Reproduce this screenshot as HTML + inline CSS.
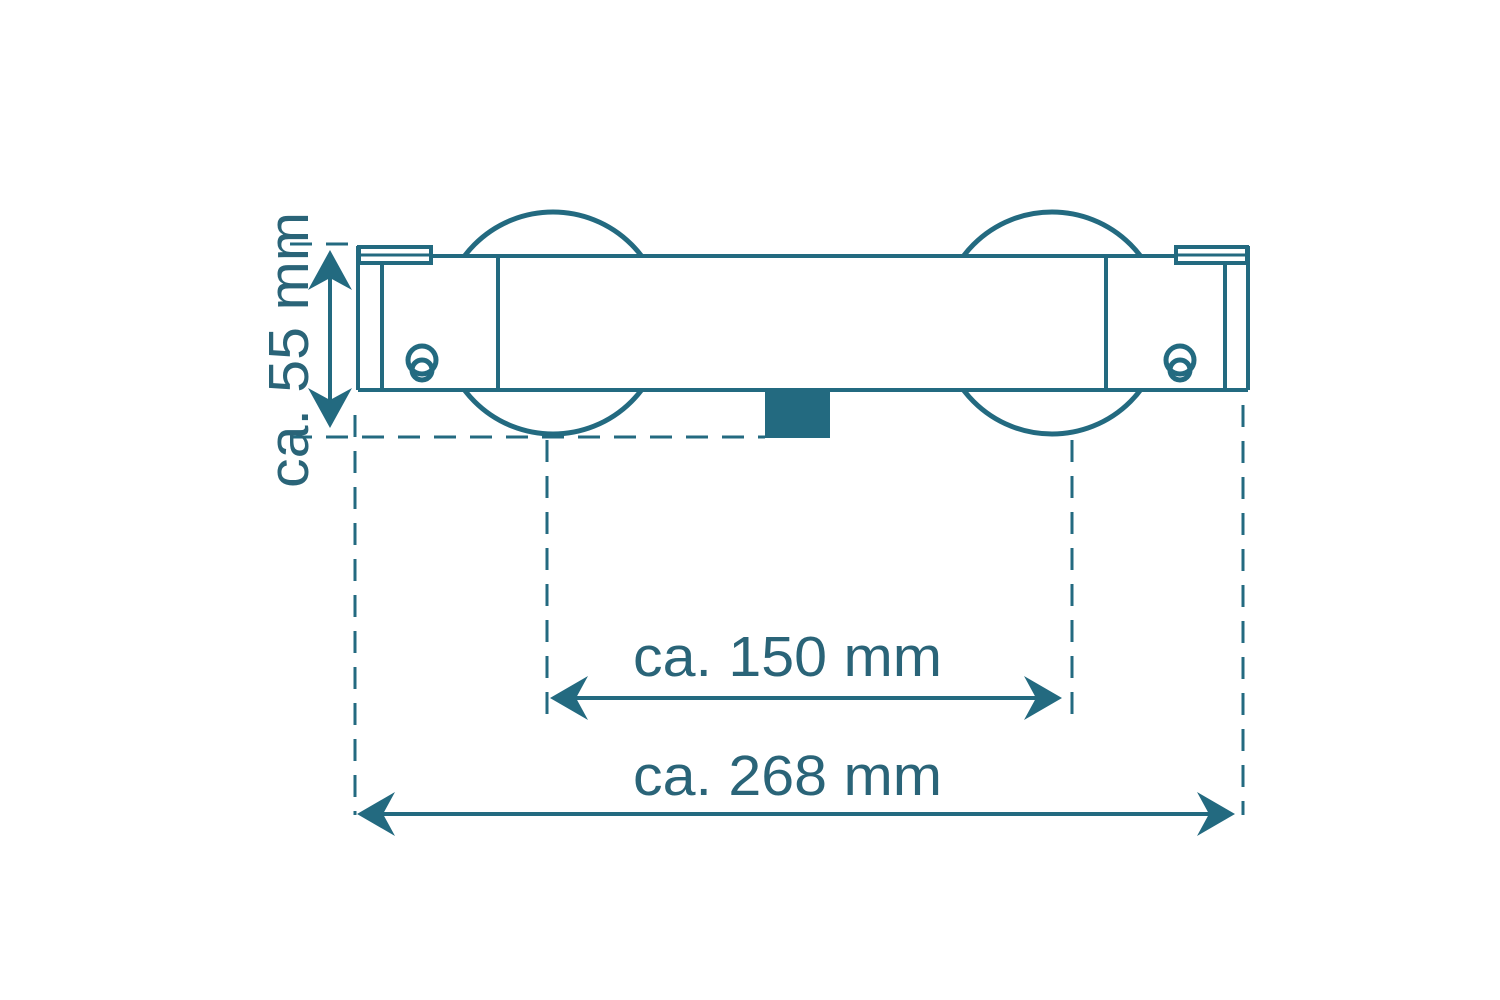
<!DOCTYPE html>
<html><head><meta charset="utf-8"><style>html,body{margin:0;padding:0;background:#fff}svg{display:block}</style></head>
<body>
<svg width="1500" height="1000" viewBox="0 0 1500 1000" xmlns="http://www.w3.org/2000/svg">
<g stroke="#236a80" fill="none" stroke-width="4">
  <!-- knobs -->
  <circle cx="553" cy="323" r="111" stroke-width="5"/>
  <circle cx="1052" cy="323" r="111" stroke-width="5"/>
  <!-- body -->
  <rect x="358" y="256" width="890" height="134" fill="#fff" stroke="none"/>
  <line x1="358" y1="256" x2="1248" y2="256"/>
  <line x1="358" y1="390" x2="1248" y2="390"/>
  <line x1="358" y1="246" x2="358" y2="390"/>
  <line x1="1248" y1="246" x2="1248" y2="390"/>
  <line x1="382" y1="262" x2="382" y2="390"/>
  <line x1="498" y1="256" x2="498" y2="390"/>
  <line x1="1106" y1="256" x2="1106" y2="390"/>
  <line x1="1225" y1="262" x2="1225" y2="390"/>
  <!-- caps -->
  <rect x="359" y="247" width="72" height="16" fill="#fff"/>
  <line x1="359" y1="255" x2="431" y2="255" stroke-width="3"/>
  <rect x="1176" y="247" width="71" height="16" fill="#fff"/>
  <line x1="1176" y1="255" x2="1247" y2="255" stroke-width="3"/>
  <!-- screws -->
  <circle cx="422" cy="360" r="14" stroke-width="5"/>
  <circle cx="422" cy="370" r="10" stroke-width="5"/>
  <circle cx="1180" cy="360" r="14" stroke-width="5"/>
  <circle cx="1180" cy="370" r="10" stroke-width="5"/>
  <!-- block -->
  <rect x="765" y="390" width="65" height="48" fill="#236a80" stroke="none"/>
  <!-- dashed -->
  <g stroke-dasharray="22,14" stroke-width="3">
    <line x1="290" y1="244" x2="358" y2="244"/>
    <line x1="290" y1="437" x2="765" y2="437"/>
    <line x1="355" y1="415" x2="355" y2="815"/>
    <line x1="547" y1="440" x2="547" y2="718"/>
    <line x1="1072" y1="440" x2="1072" y2="718"/>
    <line x1="1243" y1="405" x2="1243" y2="815"/>
  </g>
  <!-- arrows lines -->
  <line x1="330" y1="270" x2="330" y2="410"/>
  <line x1="570" y1="698" x2="1040" y2="698"/>
  <line x1="375" y1="814" x2="1215" y2="814"/>
</g>
<g fill="#236a80">
  <polygon points="330,250 352,290 330,278 308,290"/>
  <polygon points="330,428 352,388 330,400 308,388"/>
  <polygon points="550,698 588,676 576,698 588,720"/>
  <polygon points="1062,698 1024,676 1036,698 1024,720"/>
  <polygon points="357,814 395,792 383,814 395,836"/>
  <polygon points="1235,814 1197,792 1209,814 1197,836"/>
</g>
<g font-family="Liberation Sans, sans-serif" font-size="57" fill="#2a6478">
  <text x="633" y="676" textLength="309" lengthAdjust="spacingAndGlyphs">ca. 150 mm</text>
  <text x="633" y="795" textLength="309" lengthAdjust="spacingAndGlyphs">ca. 268 mm</text>
  <text transform="translate(308,488) rotate(-90)" textLength="276" lengthAdjust="spacingAndGlyphs">ca. 55 mm</text>
</g>
</svg>
</body></html>
